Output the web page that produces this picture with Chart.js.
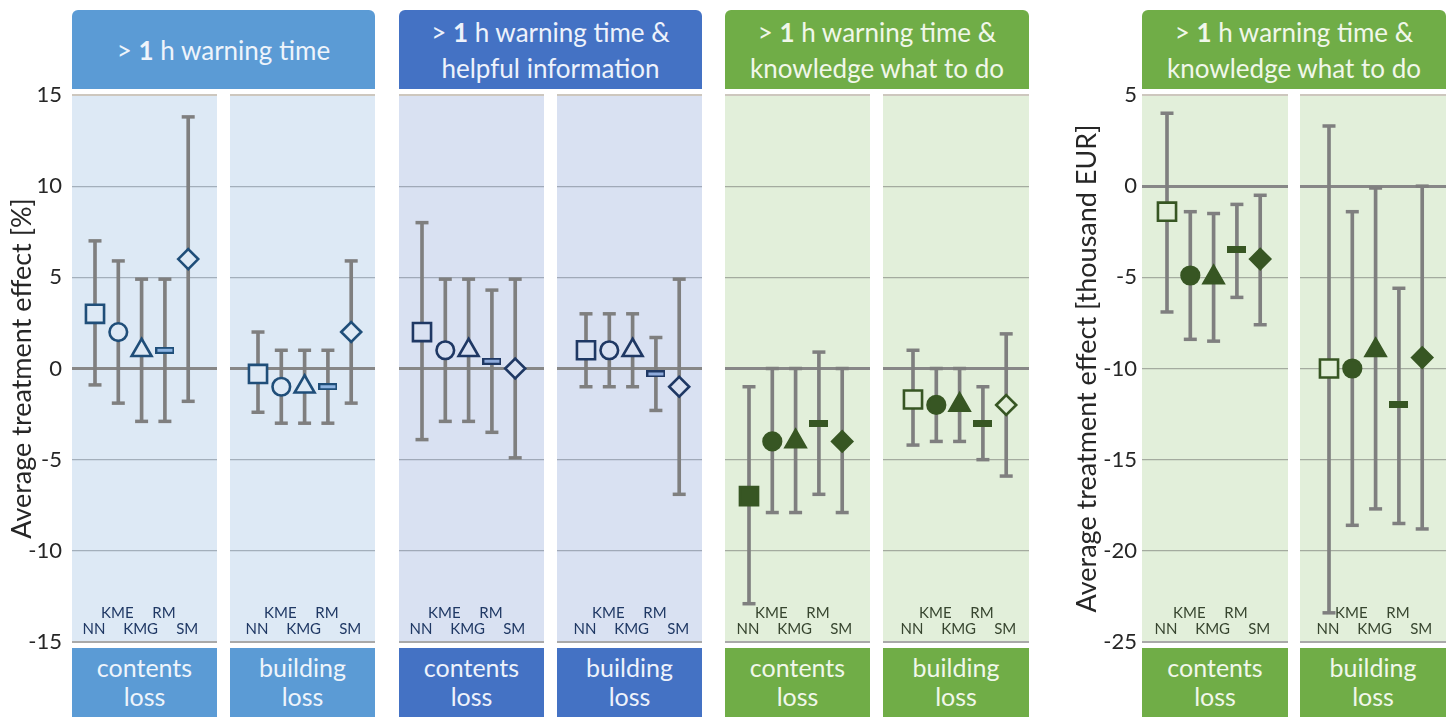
<!DOCTYPE html>
<html>
<head>
<meta charset="utf-8">
<script src="https://cdn.jsdelivr.net/npm/chart.js@4.4.1/dist/chart.umd.min.js"></script>
<style>
  html, body { margin: 0; padding: 0; background: #fff; }
  body { width: 1448px; height: 717px; position: relative; overflow: hidden; font-family: Lato, "Open Sans", sans-serif; }
  .box { position: absolute; display: flex; align-items: center; justify-content: center; text-align: center; white-space: pre-line; }
  .head { top: 10px; height: 79px; border-radius: 6px 6px 0 0; font-size: 26px; line-height: 36px; }
  .foot { top: 648px; height: 69px; font-size: 25px; line-height: 29px; padding-bottom: 2px; box-sizing: border-box; }
  canvas { position: absolute; }
</style>
</head>
<body>
<script>
const METHODS = ["NN", "KME", "KMG", "RM", "SM"]
const GROUP_TITLES = [
  "> 1 h warning time",
  "> 1 h warning time &\nhelpful information",
  "> 1 h warning time &\nknowledge what to do",
  "> 1 h warning time &\nknowledge what to do",
]
const LOSS_LABELS = ["contents\nloss", "building\nloss"]
const PCT_RANGE = [-15, 15]
const EUR_RANGE = [-25, 5]
const TICK_STEP = 5

// > 1 h warning time, relative loss [%]
const warnContentsEst = [3, 2, 1, 1, 6]
const warnContentsLow = [-0.9, -1.9, -2.9, -2.9, -1.8]
const warnContentsHigh = [7, 5.9, 4.9, 4.9, 13.8]
const warnContentsSig = [false, false, false, false, false]
const warnBuildingEst = [-0.3, -1, -1, -1, 2]
const warnBuildingLow = [-2.4, -3, -3, -3, -1.9]
const warnBuildingHigh = [2, 1, 1, 1, 5.9]
const warnBuildingSig = [false, false, false, false, false]

// > 1 h warning time & helpful information [%]
const infoContentsEst = [2, 1, 1, 0.4, 0]
const infoContentsLow = [-3.9, -2.9, -2.9, -3.5, -4.9]
const infoContentsHigh = [8, 4.9, 4.9, 4.3, 4.9]
const infoContentsSig = [false, false, false, false, false]
const infoBuildingEst = [1, 1, 1, -0.3, -1]
const infoBuildingLow = [-1, -1, -1, -2.3, -6.9]
const infoBuildingHigh = [3, 3, 3, 1.7, 4.9]
const infoBuildingSig = [false, false, false, false, false]

// > 1 h warning time & knowledge what to do [%]
const knowContentsEst = [-7, -4, -4, -3, -4]
const knowContentsLow = [-12.9, -7.9, -7.9, -6.9, -7.9]
const knowContentsHigh = [-1, 0, 0, 0.9, 0]
const knowContentsSig = [true, true, true, true, true]
const knowBuildingEst = [-1.7, -2, -2, -3, -2]
const knowBuildingLow = [-4.2, -4, -4, -5, -5.9]
const knowBuildingHigh = [1, 0, 0, -1, 1.9]
const knowBuildingSig = [false, true, true, true, false]

// > 1 h warning time & knowledge what to do [thousand EUR]
const eurContentsEst = [-1.4, -4.9, -5, -3.5, -4]
const eurContentsLow = [-6.9, -8.4, -8.5, -6.1, -7.6]
const eurContentsHigh = [4, -1.4, -1.5, -1, -0.5]
const eurContentsSig = [false, true, true, true, true]
const eurBuildingEst = [-10, -10, -9, -12, -9.4]
const eurBuildingLow = [-23.4, -18.6, -17.7, -18.5, -18.8]
const eurBuildingHigh = [3.3, -1.4, -0.1, -5.6, 0]
const eurBuildingSig = [false, true, true, true, true]

const FONT = "Lato, 'Open Sans', sans-serif"
const WHISKER = "#7f7f7f"
const CHART_TOP = 80
const CHART_H = 578
const STEP_PX = 23.3

const THEMES = {
  sky: { head: "#5b9bd5", bg: "#dde9f5", mark: "#1f4e79", dash: "#8db4e2", label: "#1f3864", grid: "#a3afbb", text: "#eef4fb" },
  navy: { head: "#4472c4", bg: "#d9e1f2", mark: "#1f3864", dash: "#8eaadb", label: "#1f3864", grid: "#a0a9b8", text: "#eef2fb" },
  green: { head: "#70ad47", bg: "#e2efda", mark: "#375623", dash: null, label: "#37452f", grid: "#a4ab9f", text: "#f0f7ea" },
}

const AXES = {
  pct: { left: 0, title: "Average treatment effect [%]", tickPad: 10, titlePad: 6 },
  eur: { left: 1058, title: "Average treatment effect [thousand EUR]", tickPad: 5, titlePad: 13 },
}

const GROUPS = [
  { theme: "sky", left: 72, right: 375 },
  { theme: "navy", left: 399, right: 702 },
  { theme: "green", left: 725, right: 1029 },
  { theme: "green", left: 1142, right: 1446 },
]

const PANELS = [
  { group: 0, loss: 0, left: 72, width: 145, lead: 23, axis: "pct", est: warnContentsEst, low: warnContentsLow, high: warnContentsHigh, sig: warnContentsSig },
  { group: 0, loss: 1, left: 230, width: 145, lead: 28, est: warnBuildingEst, low: warnBuildingLow, high: warnBuildingHigh, sig: warnBuildingSig },
  { group: 1, loss: 0, left: 399, width: 145, lead: 23, est: infoContentsEst, low: infoContentsLow, high: infoContentsHigh, sig: infoContentsSig },
  { group: 1, loss: 1, left: 557, width: 145, lead: 29, est: infoBuildingEst, low: infoBuildingLow, high: infoBuildingHigh, sig: infoBuildingSig },
  { group: 2, loss: 0, left: 725, width: 145, lead: 24, est: knowContentsEst, low: knowContentsLow, high: knowContentsHigh, sig: knowContentsSig },
  { group: 2, loss: 1, left: 883, width: 146, lead: 30, est: knowBuildingEst, low: knowBuildingLow, high: knowBuildingHigh, sig: knowBuildingSig },
  { group: 3, loss: 0, left: 1142, width: 146, lead: 25, axis: "eur", unit: "eur", est: eurContentsEst, low: eurContentsLow, high: eurContentsHigh, sig: eurContentsSig },
  { group: 3, loss: 1, left: 1300, width: 146, lead: 29, unit: "eur", est: eurBuildingEst, low: eurBuildingLow, high: eurBuildingHigh, sig: eurBuildingSig },
]

const addBox = (cls, left, width, bg, color, html) => {
  const el = document.createElement("div")
  el.className = "box " + cls
  el.style.left = left + "px"
  el.style.width = width + "px"
  el.style.background = bg
  el.style.color = color
  el.innerHTML = "<span>" + html + "</span>"
  document.body.appendChild(el)
}

GROUPS.forEach((g, i) => {
  const t = THEMES[g.theme]
  const title = GROUP_TITLES[i].replace(">", "&gt;").replace(" 1 ", " <b>1</b> ")
  addBox("head", g.left, g.right - g.left, t.head, t.text, title)
})

// dash marker for RM
const makeDash = (stroke, fill) => {
  const c = document.createElement("canvas")
  c.width = 19
  c.height = 7
  const ctx = c.getContext("2d")
  ctx.fillStyle = stroke
  ctx.fillRect(0, 0, 19, 7)
  if (fill) {
    ctx.fillStyle = fill
    ctx.fillRect(2, 2, 15, 3)
  }
  return c
}

const panelDecor = {
  id: "panelDecor",
  beforeDraw: (chart, args, opts) => {
    const { ctx, chartArea: a } = chart
    ctx.save()
    ctx.fillStyle = opts.bg
    ctx.fillRect(a.left, a.top, a.right - a.left, a.bottom - a.top)
    ctx.restore()
  },
  afterDraw: (chart, args, opts) => {
    const { ctx, chartArea: a } = chart
    const xs = chart.scales.x
    ctx.save()
    ctx.font = "15px " + FONT
    ctx.fillStyle = opts.label
    ctx.textAlign = "center"
    ctx.textBaseline = "middle"
    METHODS.forEach((m, i) => {
      const y = i % 2 === 1 ? a.bottom - 29 : a.bottom - 13
      ctx.fillText(m, xs.getPixelForValue(i + 1) - 1, y)
    })
    ctx.restore()
  },
}

PANELS.forEach((p) => {
  const theme = THEMES[GROUPS[p.group].theme]
  const axis = p.axis ? AXES[p.axis] : null
  const [yMin, yMax] = p.unit === "eur" ? EUR_RANGE : PCT_RANGE
  const canvasLeft = axis ? axis.left : p.left
  const canvas = document.createElement("canvas")
  canvas.width = p.left + p.width - canvasLeft
  canvas.height = CHART_H
  canvas.style.left = canvasLeft + "px"
  canvas.style.top = CHART_TOP + "px"
  document.body.appendChild(canvas)

  addBox("foot", p.left, p.width, theme.head, theme.text, LOSS_LABELS[p.loss])

  const xMin = 1 - p.lead / STEP_PX
  const xMax = xMin + p.width / STEP_PX
  const xs = METHODS.map((m, i) => i + 1)

  const styles = p.sig.map((s, i) => {
    if (i === 3) return makeDash(theme.mark, theme.dash ? theme.dash : s ? null : theme.bg)
    return ["rect", "circle", "triangle", null, "rectRot"][i]
  })

  new Chart(canvas, {
    type: "scatter",
    data: {
      datasets: [
        {
          type: "bar",
          data: xs.map((x, i) => ({ x: x, y: [p.low[i], p.high[i]] })),
          backgroundColor: WHISKER,
          barThickness: 3,
          borderWidth: 0,
          order: 3,
        },
        {
          type: "scatter",
          data: xs.flatMap((x, i) => [{ x: x, y: p.low[i] }, { x: x, y: p.high[i] }]),
          pointStyle: "line",
          pointRadius: 6.5,
          pointBorderWidth: 3.5,
          pointBorderColor: WHISKER,
          order: 2,
        },
        {
          type: "scatter",
          data: xs.map((x, i) => ({ x: x, y: p.est[i] })),
          pointStyle: styles,
          pointRadius: [12.8, 8.8, 11.5, 9, 10],
          pointBorderWidth: 2.6,
          pointBorderColor: theme.mark,
          pointBackgroundColor: p.sig.map((s) => (s ? theme.mark : theme.bg)),
          order: 1,
        },
      ],
    },
    options: {
      responsive: false,
      animation: false,
      events: [],
      layout: { autoPadding: false, padding: { top: 15, bottom: 16, left: 0, right: 0 } },
      plugins: {
        legend: { display: false },
        tooltip: { enabled: false },
        panelDecor: { bg: theme.bg, label: theme.label },
      },
      scales: {
        x: { type: "linear", display: false, min: xMin, max: xMax, offset: false },
        y: {
          min: yMin,
          max: yMax,
          border: { display: false },
          grid: {
            drawTicks: false,
            color: (c) => {
              const v = c.tick.value
              if (v === 0) return "#878787"
              if (v === yMax) return "#cdc7be"
              if (v === yMin) return "#a9a9a9"
              return theme.grid
            },
            lineWidth: (c) => {
              const v = c.tick.value
              if (v === 0) return 3
              if (v === yMin || v === yMax) return 2
              return 1.2
            },
          },
          ticks: {
            stepSize: TICK_STEP,
            display: !!axis,
            padding: axis ? axis.tickPad : 0,
            color: "#262626",
            font: { family: FONT, size: 22 },
          },
          title: {
            display: !!axis,
            text: axis ? axis.title : "",
            color: "#262626",
            font: { family: FONT, size: 27 },
            padding: { top: axis ? axis.titlePad : 0, bottom: 0 },
          },
          afterFit: (s) => {
            s.width = axis ? p.left - axis.left : 0
            s.paddingTop = 0
            s.paddingBottom = 0
          },
        },
      },
    },
    plugins: [panelDecor],
  })
})
</script>
</body>
</html>
